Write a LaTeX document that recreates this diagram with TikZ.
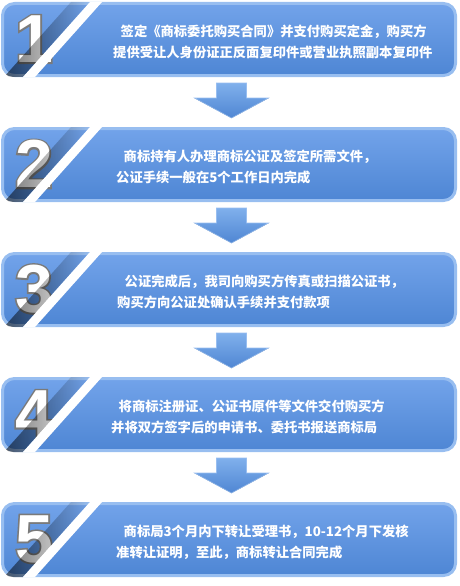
\documentclass[tikz,border=0pt]{standalone}
\usepackage{fontspec}
\newfontfamily\cjk{Noto Sans CJK SC}
\newfontfamily\numfont{Liberation Sans Bold}
\newfontfamily\numrimfont[FakeBold=5]{Liberation Sans Bold}
\usetikzlibrary{fadings}
\definecolor{bartop}{RGB}{114,163,234}
\definecolor{barbot}{RGB}{78,134,212}
\definecolor{barrim}{RGB}{152,190,240}
\definecolor{arrtop}{RGB}{128,176,236}
\definecolor{arrbot}{RGB}{79,134,211}
\definecolor{numrim}{RGB}{122,122,122}
\begin{document}
\begin{tikzpicture}[x=1pt,y=1pt,
    bar/.style={draw=barrim, line width=3pt, rounded corners=12pt,
      top color=bartop, bottom color=barbot,
      minimum width=453pt, minimum height=72pt, inner sep=0pt},
    numeral/.style={inner sep=0pt, font=\numfont\fontsize{68}{68}\selectfont},
    stepline/.style={inner sep=0pt, anchor=west, text=white,
      font=\cjk\bfseries\fontsize{13.3}{16}\selectfont},
    blockarrow/.style={top color=arrtop, bottom color=arrbot,
      draw=barrim, line width=0.6pt}]
  \useasboundingbox (0,0) rectangle (460,-586);
  % steps
  \foreach \n/\xa/\la/\lb in {
      1/113/{签定《商标委托购买合同》并支付购买定金，购买方}/{提供受让人身份证正反面复印件或营业执照副本复印件},
      2/116/{商标持有人办理商标公证及签定所需文件，}/{公证手续一般在5个工作日内完成},
      3/117/{公证完成后，我司向购买方传真或扫描公证书，}/{购买方向公证处确认手续并支付款项},
      4/111/{将商标注册证、公证书原件等文件交付购买方}/{并将双方签字后的申请书、委托书报送商标局},
      5/116/{商标局3个月内下转让受理书，10-12个月下发核}/{准转让证明，至此，商标转让合同完成}} {
    \pgfmathsetmacro{\ytop}{-2-125*(\n-1)}
    \node[bar] (bar\n) at (229,\ytop-37.5) {};
    \begin{scope}
      \clip[rounded corners=12pt] (bar\n.south west) rectangle (bar\n.north east);
      % big numeral with grey rim
      \node[numeral, text=numrim, font=\numrimfont\fontsize{68}{68}\selectfont]
        (rim\n) at (34,\ytop-37) {\n};
      \node[numeral, text=white] (num\n) at (rim\n.center) {\n};
      % shadow and white stripe
      \fill[black, fill opacity=0.55, path fading=east]
        (4,\ytop-75) -- (23,\ytop-75) -- (90,\ytop) -- (71,\ytop) -- cycle;
      \fill[white] (23,\ytop-75) -- (35,\ytop-75) -- (102,\ytop) -- (90,\ytop) -- cycle;
    \end{scope}
    % texts
    \node[stepline] (la\n) at (\xa+7.5,\ytop-29.5) {\la};
    \node[stepline] (lb\n) at (\xa,\ytop-50.5) {\lb};
  }
  % arrows
  \foreach \n in {1,...,4} {
    \path (bar\n.south) ++(2.5,-6) coordinate (a\n);
    \fill[blockarrow] (a\n) ++(-15,0) -- ++(30,0) -- ++(0,-15) -- ++(22,0)
      -- ++(-37,-20) -- ++(-37,20) -- ++(22,0) -- cycle;
  }
\end{tikzpicture}
\end{document}
